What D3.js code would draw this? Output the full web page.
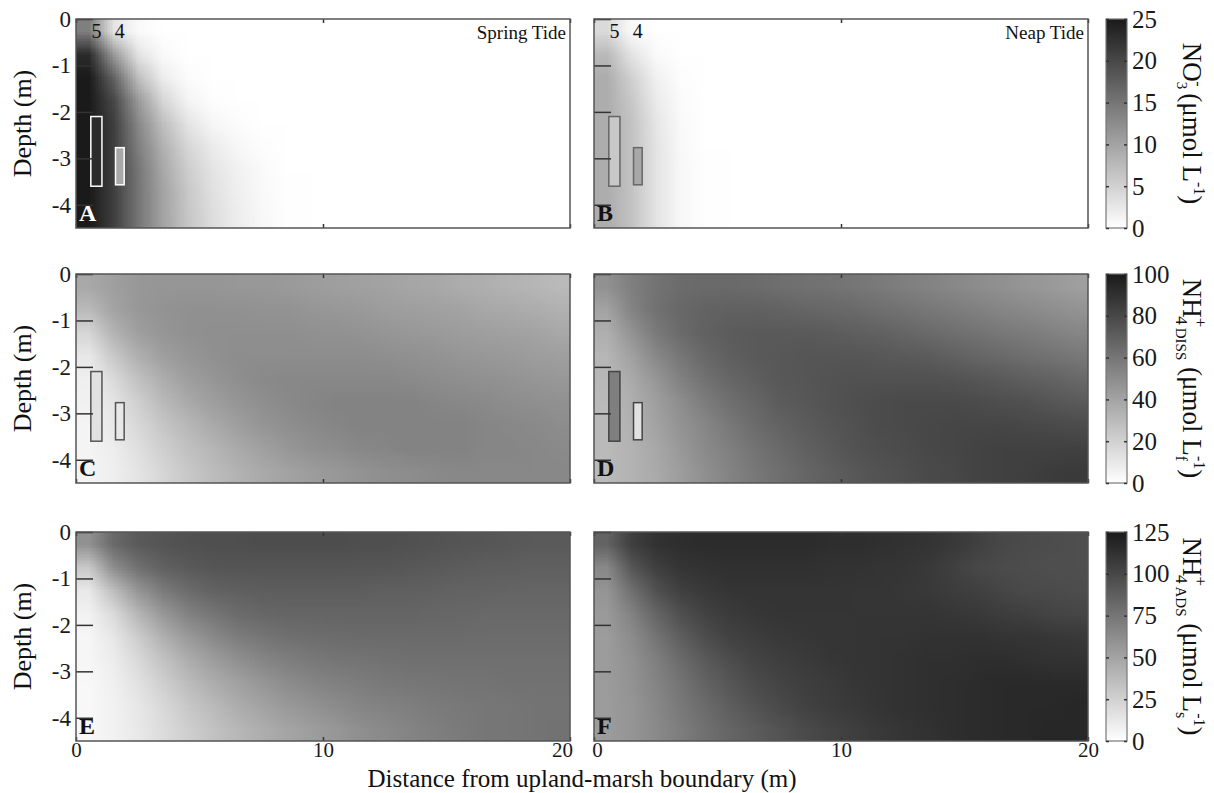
<!DOCTYPE html>
<html>
<head>
<meta charset="utf-8">
<script src="https://cdn.jsdelivr.net/npm/d3@7"></script>
<style>
  body { margin: 0; background: #fff; }
  svg { font-family: "Liberation Serif", "DejaVu Serif", serif; }
  .axis line { stroke: #333; stroke-width: 1.5; }
</style>
</head>
<body>
<script>
// grid cell centres (m)
let xCenters = [0.5, 1.5, 2.5, 3.5, 4.5, 5.5, 6.5, 7.5, 8.5, 9.5, 10.5, 11.5, 12.5, 13.5, 14.5, 15.5, 16.5, 17.5, 18.5, 19.5];
let depthCenters = [-0.25, -0.75, -1.25, -1.75, -2.25, -2.75, -3.25, -3.75, -4.25];

// NO3- (umol L-1), spring tide
let no3Spring = [
  [14, 3, 0.5, 0, 0, 0, 0, 0, 0, 0, 0, 0, 0, 0, 0, 0, 0, 0, 0, 0],
  [23, 11, 3, 0.5, 0, 0, 0, 0, 0, 0, 0, 0, 0, 0, 0, 0, 0, 0, 0, 0],
  [25, 17, 7, 2, 0.3, 0, 0, 0, 0, 0, 0, 0, 0, 0, 0, 0, 0, 0, 0, 0],
  [25, 20, 11, 4.5, 1.2, 0.2, 0, 0, 0, 0, 0, 0, 0, 0, 0, 0, 0, 0, 0, 0],
  [25, 21, 13, 7, 3, 1, 0.3, 0, 0, 0, 0, 0, 0, 0, 0, 0, 0, 0, 0, 0],
  [25, 21, 14, 8.5, 4.5, 2.2, 0.9, 0.2, 0, 0, 0, 0, 0, 0, 0, 0, 0, 0, 0, 0],
  [25, 21, 15, 9.5, 5.5, 3, 1.5, 0.5, 0, 0, 0, 0, 0, 0, 0, 0, 0, 0, 0, 0],
  [25, 21, 15, 10, 6, 3.4, 1.8, 0.7, 0.1, 0, 0, 0, 0, 0, 0, 0, 0, 0, 0, 0],
  [25, 21, 15, 10, 6.2, 3.7, 2, 0.8, 0.1, 0, 0, 0, 0, 0, 0, 0, 0, 0, 0, 0]
];
// NO3- neap tide
let no3Neap = [
  [4, 0.5, 0, 0, 0, 0, 0, 0, 0, 0, 0, 0, 0, 0, 0, 0, 0, 0, 0, 0],
  [7.5, 3, 0.5, 0, 0, 0, 0, 0, 0, 0, 0, 0, 0, 0, 0, 0, 0, 0, 0, 0],
  [9, 5, 1.5, 0.2, 0, 0, 0, 0, 0, 0, 0, 0, 0, 0, 0, 0, 0, 0, 0, 0],
  [9, 6, 2.2, 0.4, 0, 0, 0, 0, 0, 0, 0, 0, 0, 0, 0, 0, 0, 0, 0, 0],
  [9, 6.5, 2.7, 0.6, 0, 0, 0, 0, 0, 0, 0, 0, 0, 0, 0, 0, 0, 0, 0, 0],
  [9, 6.5, 3, 0.7, 0, 0, 0, 0, 0, 0, 0, 0, 0, 0, 0, 0, 0, 0, 0, 0],
  [9, 6.5, 3, 0.8, 0.1, 0, 0, 0, 0, 0, 0, 0, 0, 0, 0, 0, 0, 0, 0, 0],
  [9, 6.5, 3, 0.8, 0.1, 0, 0, 0, 0, 0, 0, 0, 0, 0, 0, 0, 0, 0, 0, 0],
  [9, 6.5, 3, 0.8, 0.1, 0, 0, 0, 0, 0, 0, 0, 0, 0, 0, 0, 0, 0, 0, 0]
];
// NH4+ dissolved (umol Lf-1)
let nh4DissSpring = [
  [38, 42, 45, 46, 46, 46, 45, 45, 44, 43, 42, 41, 40, 39, 38, 36, 35, 33, 32, 30],
  [30, 40, 45, 47, 48, 48, 48, 47, 47, 46, 45, 44, 43, 42, 41, 40, 38, 37, 36, 34],
  [18, 33, 42, 46, 48, 49, 49, 49, 49, 48, 48, 47, 46, 45, 44, 43, 42, 41, 40, 38],
  [10, 24, 35, 42, 46, 48, 50, 50, 50, 50, 50, 50, 49, 48, 47, 46, 45, 44, 43, 42],
  [7, 16, 27, 36, 42, 46, 49, 51, 52, 52, 52, 52, 52, 51, 50, 49, 48, 47, 46, 45],
  [6, 12, 21, 30, 37, 42, 46, 49, 51, 53, 54, 54, 54, 54, 53, 52, 51, 50, 49, 48],
  [5, 10, 17, 25, 31, 37, 42, 46, 49, 51, 53, 54, 54, 54, 54, 54, 53, 52, 51, 50],
  [5, 8, 14, 21, 27, 32, 37, 41, 45, 48, 50, 52, 53, 54, 54, 54, 53, 53, 52, 51],
  [5, 7, 12, 18, 24, 29, 33, 37, 40, 43, 45, 47, 49, 50, 51, 52, 52, 52, 52, 52]
];
let nh4DissNeap = [
  [48, 56, 61, 64, 65, 65, 64, 63, 62, 61, 60, 58, 56, 54, 52, 50, 48, 46, 44, 42],
  [40, 54, 62, 66, 68, 69, 69, 68, 67, 66, 65, 63, 61, 59, 57, 55, 53, 51, 49, 47],
  [35, 47, 58, 65, 69, 71, 72, 72, 72, 71, 70, 69, 67, 65, 63, 61, 59, 57, 55, 53],
  [32, 41, 52, 60, 66, 70, 72, 73, 74, 74, 74, 73, 72, 71, 69, 67, 65, 63, 61, 59],
  [31, 37, 46, 55, 62, 67, 70, 73, 74, 75, 76, 76, 76, 76, 75, 74, 72, 70, 68, 66],
  [30, 35, 42, 50, 57, 63, 67, 71, 73, 75, 77, 78, 79, 79, 79, 78, 77, 76, 74, 72],
  [30, 34, 40, 47, 53, 59, 64, 68, 71, 74, 76, 78, 79, 80, 81, 81, 81, 80, 79, 78],
  [30, 33, 38, 45, 51, 56, 61, 65, 69, 72, 75, 77, 78, 80, 81, 82, 83, 83, 83, 83],
  [30, 33, 37, 43, 49, 54, 59, 63, 67, 70, 73, 75, 77, 79, 80, 82, 83, 84, 85, 86]
];
// NH4+ adsorbed (umol Ls-1)
let nh4AdsSpring = [
  [60, 82, 90, 93, 95, 96, 96, 97, 97, 97, 97, 96, 96, 95, 94, 93, 92, 91, 90, 90],
  [30, 62, 78, 86, 90, 92, 93, 93, 93, 93, 93, 92, 92, 91, 90, 89, 88, 88, 87, 87],
  [12, 36, 58, 72, 80, 85, 87, 88, 88, 88, 88, 88, 87, 87, 86, 85, 85, 84, 84, 84],
  [7, 20, 40, 56, 68, 75, 80, 83, 84, 84, 84, 84, 84, 84, 83, 83, 82, 82, 82, 82],
  [5, 13, 28, 43, 55, 64, 71, 75, 78, 79, 80, 81, 81, 81, 81, 81, 80, 80, 80, 80],
  [5, 10, 21, 33, 44, 53, 60, 66, 70, 73, 75, 76, 77, 78, 78, 78, 78, 78, 78, 78],
  [4, 8, 16, 26, 36, 44, 51, 57, 62, 66, 69, 71, 73, 74, 75, 76, 76, 77, 77, 77],
  [4, 7, 13, 21, 30, 37, 44, 50, 55, 59, 63, 66, 68, 70, 72, 73, 74, 75, 76, 76],
  [4, 7, 12, 19, 26, 33, 39, 44, 49, 53, 57, 61, 64, 67, 70, 72, 74, 75, 76, 77]
];
let nh4AdsNeap = [
  [85, 105, 112, 114, 115, 115, 115, 115, 115, 114, 114, 113, 112, 111, 108, 104, 100, 98, 97, 96],
  [65, 92, 105, 110, 112, 113, 113, 113, 113, 112, 112, 111, 110, 108, 104, 100, 98, 97, 96, 96],
  [58, 78, 95, 104, 108, 110, 111, 111, 111, 111, 110, 110, 109, 108, 106, 104, 101, 99, 98, 97],
  [55, 68, 84, 96, 103, 107, 109, 110, 110, 110, 110, 110, 110, 110, 109, 108, 106, 104, 102, 101],
  [54, 63, 76, 88, 97, 103, 106, 108, 109, 110, 110, 111, 111, 112, 112, 112, 111, 110, 109, 108],
  [54, 60, 70, 81, 90, 97, 102, 105, 107, 109, 110, 111, 112, 113, 113, 114, 114, 113, 112, 112],
  [54, 59, 67, 76, 85, 92, 98, 102, 105, 107, 109, 111, 112, 113, 114, 115, 116, 116, 116, 116],
  [54, 58, 65, 73, 81, 88, 94, 99, 103, 106, 108, 110, 112, 113, 114, 115, 116, 117, 117, 118],
  [54, 58, 64, 71, 78, 84, 89, 94, 98, 102, 105, 108, 110, 112, 114, 115, 116, 117, 118, 118]
];

// observation wells 5 and 4: x range (m), depth range (m)
let wellNames = ["5", "4"];
let wellX = [[0.6, 1.05], [1.6, 1.95]];
let wellDepth = [[-2.1, -3.6], [-2.77, -3.57]];
let wellNo3Spring = [23, 9.5];
let wellNo3Neap = [6, 9.5];
let wellNh4Spring = [13, 10];
let wellNh4Neap = [56, 13];

let cbarMax = [25, 100, 125];
let cbarTicks = [[0, 5, 10, 15, 20, 25], [0, 20, 40, 60, 80, 100], [0, 25, 50, 75, 100, 125]];
let depthTicks = [0, -1, -2, -3, -4];
let distTicks = [0, 10, 20];

let serif = '"Liberation Serif", "DejaVu Serif", serif';

let svg = d3.select('body').append('svg')
  .attr('width', 1214)
  .attr('height', 793);

let colLeft = [76, 594];
let rowTop = [19, 274, 532];
let pw = 494, ph = 209;

function gray(max) {
  return d3.scaleLinear().domain([0, max]).range(['#ffffff', '#1a1a1a']).clamp(true);
}

function heatUrl(grid, color) {
  let cv = document.createElement('canvas');
  cv.width = xCenters.length;
  cv.height = depthCenters.length;
  let ctx = cv.getContext('2d');
  grid.forEach((row, j) => row.forEach((v, i) => {
    ctx.fillStyle = color(v);
    ctx.fillRect(i, j, 1, 1);
  }));
  return cv.toDataURL();
}

function styleTicks(a, size) {
  a.attr('font-family', serif).attr('font-size', size);
  a.selectAll('text').attr('fill', '#1a1a1a');
}

let panels = [
  {grid: no3Spring, row: 0, col: 0, letter: 'A', tide: 'Spring Tide', wells: wellNo3Spring, wellStroke: '#fff'},
  {grid: no3Neap, row: 0, col: 1, letter: 'B', tide: 'Neap Tide', wells: wellNo3Neap, wellStroke: '#666'},
  {grid: nh4DissSpring, row: 1, col: 0, letter: 'C', wells: wellNh4Spring, wellStroke: '#555'},
  {grid: nh4DissNeap, row: 1, col: 1, letter: 'D', wells: wellNh4Neap, wellStroke: '#444'},
  {grid: nh4AdsSpring, row: 2, col: 0, letter: 'E'},
  {grid: nh4AdsNeap, row: 2, col: 1, letter: 'F'}
];

panels.forEach(p => {
  let left = colLeft[p.col], top = rowTop[p.row];
  let x = d3.scaleLinear().domain([0, 20]).range([left, left + pw]);
  let y = d3.scaleLinear().domain([0, -4.5]).range([top, top + ph]);
  let color = gray(cbarMax[p.row]);
  let g = svg.append('g');

  // cell half-width from the centre spacing
  let dx = xCenters[1] - xCenters[0], dz = depthCenters[0] - depthCenters[1];
  g.append('image')
    .attr('href', heatUrl(p.grid, color))
    .attr('x', x(xCenters[0] - dx / 2))
    .attr('y', y(depthCenters[0] + dz / 2))
    .attr('width', x(xCenters[xCenters.length - 1] + dx / 2) - x(xCenters[0] - dx / 2))
    .attr('height', y(depthCenters[depthCenters.length - 1] - dz / 2) - y(depthCenters[0] + dz / 2))
    .attr('preserveAspectRatio', 'none');

  // wells
  if (p.wells) {
    wellNames.forEach((w, i) => {
      g.append('rect')
        .attr('x', x(wellX[i][0]))
        .attr('y', y(wellDepth[i][0]))
        .attr('width', x(wellX[i][1]) - x(wellX[i][0]))
        .attr('height', y(wellDepth[i][1]) - y(wellDepth[i][0]))
        .attr('fill', color(p.wells[i]))
        .attr('stroke', p.wellStroke)
        .attr('stroke-width', 1.5);
    });
  }
  if (p.row === 0) {
    wellNames.forEach((w, i) => {
      g.append('text')
        .attr('x', x((wellX[i][0] + wellX[i][1]) / 2))
        .attr('y', top + 19)
        .attr('text-anchor', 'middle')
        .attr('font-size', 20)
        .attr('fill', '#111')
        .text(w);
    });
    g.append('text')
      .attr('x', left + pw - 4)
      .attr('y', top + 20)
      .attr('text-anchor', 'end')
      .attr('font-size', 19)
      .attr('fill', '#111')
      .text(p.tide);
  }

  // axes
  g.append('g')
    .attr('class', 'axis')
    .attr('transform', 'translate(' + left + ',0)')
    .call(d3.axisLeft(y).tickValues(depthTicks).tickSize(-17).tickPadding(5)
      .tickFormat(d => p.col === 0 ? String(d) : ''))
    .call(a => a.select('.domain').remove())
    .call(a => styleTicks(a, 23));

  g.append('g')
    .attr('class', 'axis')
    .attr('transform', 'translate(0,' + (top + ph) + ')')
    .call(d3.axisBottom(x).tickValues(distTicks).tickSize(-4).tickPadding(1)
      .tickFormat(d => p.row === 2 ? String(d) : ''))
    .call(a => a.select('.domain').remove())
    .call(a => styleTicks(a, 21))
    .call(a => a.selectAll('text')
      .attr('dx', d => (p.col === 0 && d === 20) ? -8 : (p.col === 1 && d === 0) ? 3 : 0));

  g.append('g')
    .attr('class', 'axis')
    .attr('transform', 'translate(0,' + top + ')')
    .call(d3.axisTop(x).tickValues(distTicks).tickSize(-4).tickFormat(''))
    .call(a => a.select('.domain').remove());

  g.append('rect')
    .attr('x', left).attr('y', top)
    .attr('width', pw).attr('height', ph)
    .attr('fill', 'none')
    .attr('stroke', '#555')
    .attr('stroke-width', 1.5);

  g.append('text')
    .attr('x', left + 3)
    .attr('y', top + ph - 7)
    .attr('font-size', 24)
    .attr('font-weight', 'bold')
    .attr('fill', p.letter === 'A' ? '#fff' : '#111')
    .text(p.letter);
});

// y labels
rowTop.forEach(t => {
  svg.append('text')
    .attr('transform', 'translate(31,' + (t + ph / 2) + ') rotate(-90)')
    .attr('text-anchor', 'middle')
    .attr('font-size', 26)
    .attr('fill', '#111')
    .text('Depth (m)');
});

svg.append('text')
  .attr('x', 582)
  .attr('y', 787)
  .attr('text-anchor', 'middle')
  .attr('font-size', 25)
  .attr('fill', '#111')
  .text('Distance from upland-marsh boundary (m)');

// colour bars
let defs = svg.append('defs');
let cbX = 1106, cbW = 21;
rowTop.forEach((t, r) => {
  let color = gray(cbarMax[r]);
  let grad = defs.append('linearGradient')
    .attr('id', 'cb' + r)
    .attr('x1', 0).attr('y1', 1).attr('x2', 0).attr('y2', 0);
  grad.append('stop').attr('offset', 0).attr('stop-color', color(0));
  grad.append('stop').attr('offset', 1).attr('stop-color', color(cbarMax[r]));

  let cy = d3.scaleLinear().domain([0, cbarMax[r]]).range([t + ph, t]);
  svg.append('rect')
    .attr('x', cbX).attr('y', t)
    .attr('width', cbW).attr('height', ph)
    .attr('fill', 'url(#cb' + r + ')')
    .attr('stroke', '#777')
    .attr('stroke-width', 1.2);

  svg.append('g')
    .attr('class', 'axis')
    .attr('transform', 'translate(' + (cbX + cbW) + ',0)')
    .call(d3.axisRight(cy).tickValues(cbarTicks[r]).tickSize(-3).tickPadding(5))
    .call(a => a.select('.domain').remove())
    .call(a => a.selectAll('line').attr('stroke', '#666').attr('stroke-width', 1))
    .call(a => styleTicks(a, 25));
  svg.append('g')
    .attr('class', 'axis')
    .attr('transform', 'translate(' + cbX + ',0)')
    .call(d3.axisLeft(cy).tickValues(cbarTicks[r]).tickSize(-3).tickFormat(''))
    .call(a => a.select('.domain').remove())
    .call(a => a.selectAll('line').attr('stroke', '#666').attr('stroke-width', 1));
});

// colour bar titles, rotated so the text reads downwards
function cbTitle(r, parts) {
  let t = svg.append('text')
    .attr('transform', 'translate(1183,' + (rowTop[r] + ph / 2) + ') rotate(90)')
    .attr('text-anchor', 'middle')
    .attr('font-size', 27)
    .attr('fill', '#111');
  parts.forEach(s => {
    let ts = t.append('tspan').text(s.t);
    if (s.size) ts.attr('font-size', s.size);
    if (s.dx) ts.attr('dx', s.dx);
    if (s.dy) ts.attr('dy', s.dy);
  });
}

cbTitle(0, [
  {t: 'NO'},
  {t: '3', size: 15, dy: 6},
  {t: '-', size: 16, dx: -8, dy: -16},
  {t: ' (μmol L', dy: 10},
  {t: '-1', size: 16, dy: -11},
  {t: ')', dy: 11}
]);
cbTitle(1, [
  {t: 'NH'},
  {t: '+', size: 17, dy: -12},
  {t: '4', size: 17, dx: -11, dy: 19},
  {t: 'DISS', size: 15, dx: 3},
  {t: ' (μmol L', dy: -7},
  {t: 'f', size: 16, dy: 7},
  {t: '-1', size: 16, dx: -5, dy: -18},
  {t: ')', dy: 11}
]);
cbTitle(2, [
  {t: 'NH'},
  {t: '+', size: 17, dy: -12},
  {t: '4', size: 17, dx: -11, dy: 19},
  {t: 'ADS', size: 15, dx: 3},
  {t: ' (μmol L', dy: -7},
  {t: 's', size: 16, dy: 7},
  {t: '-1', size: 16, dx: -5, dy: -18},
  {t: ')', dy: 11}
]);
</script>
</body>
</html>
